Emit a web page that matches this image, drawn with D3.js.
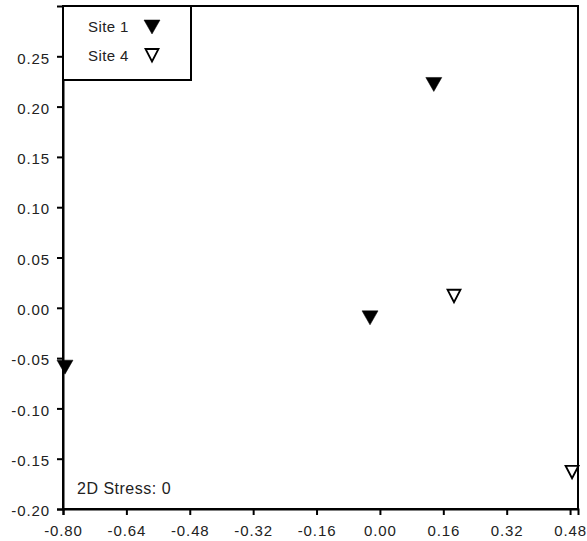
<!DOCTYPE html>
<html>
<head>
<meta charset="utf-8">
<script src="https://cdn.jsdelivr.net/npm/d3@7"></script>
<style>
  body { margin: 0; background: #fff; }
  text { font-family: "Liberation Sans", Arial, sans-serif; }
</style>
</head>
<body>
<div id="chart"></div>
<script>
// data
var site1X = [0.136, -0.025, -0.795];
var site1Y = [0.222, -0.010, -0.059];
var site4X = [0.187, 0.485];
var site4Y = [0.012, -0.163];
var xTicks = [-0.80, -0.64, -0.48, -0.32, -0.16, 0.00, 0.16, 0.32, 0.48];
var yTicks = [-0.20, -0.15, -0.10, -0.05, 0.00, 0.05, 0.10, 0.15, 0.20, 0.25];
var legendNames = ["Site 1", "Site 4"];
var stressLabel = "2D Stress: 0";

var width = 587,
  height = 541,
  padLeft = 63,
  padRight = 578,
  padTop = 6,
  padBottom = 509,
  fontSize = "15px";

var x = d3.scaleLinear().domain([-0.8, 0.5]).range([padLeft, padRight]);
var y = d3.scaleLinear().domain([-0.2, 0.3]).range([padBottom, padTop]);

var fmt = d3.formatLocale({decimal: ".", thousands: ",", grouping: [3], currency: ["", ""], minus: "-"}).format(".2f");

var svg = d3.select("#chart").append("svg")
  .attr("width", width)
  .attr("height", height);

// frame
svg.append("rect")
  .attr("x", padLeft).attr("y", padTop)
  .attr("width", padRight - padLeft).attr("height", padBottom - padTop)
  .attr("fill", "none").attr("stroke", "#000").attr("stroke-width", 2);

var xAxis = svg.append("g")
  .attr("transform", "translate(0," + padBottom + ")")
  .call(d3.axisBottom(x).tickValues(xTicks).tickSize(6).tickPadding(10).tickFormat(fmt));

var yAxis = svg.append("g")
  .attr("transform", "translate(" + padLeft + ",0)")
  .call(d3.axisLeft(y).tickValues(yTicks).tickSize(6).tickPadding(7).tickFormat(fmt));

[xAxis, yAxis].forEach(function(g) {
  g.select(".domain").attr("stroke-width", 2);
  g.selectAll(".tick line").attr("stroke-width", 2);
  g.selectAll("text")
    .style("font-family", "'Liberation Sans', Arial, sans-serif")
    .style("font-size", fontSize)
    .style("letter-spacing", "0.9px")
    .attr("fill", "#222");
});
yAxis.selectAll("text").attr("dy", "0.45em");

// down triangle symbol
var triFull = "M-8,-7L8,-7L0,7Z";
var triOpen = "M-6.5,-6L6.5,-6L0,6.5Z";

svg.selectAll(".s1")
  .data(site1X)
  .enter()
  .append("path")
  .attr("class", "s1")
  .attr("d", triFull)
  .attr("transform", function(d, i) { return "translate(" + x(d) + "," + y(site1Y[i]) + ")"; })
  .attr("fill", "#000")
  .attr("stroke", "#000")
  .attr("stroke-width", 0.5);

svg.selectAll(".s4")
  .data(site4X)
  .enter()
  .append("path")
  .attr("class", "s4")
  .attr("d", triOpen)
  .attr("transform", function(d, i) { return "translate(" + x(d) + "," + y(site4Y[i]) + ")"; })
  .attr("fill", "#fff")
  .attr("stroke", "#000")
  .attr("stroke-width", 1.8);

// legend
svg.append("rect")
  .attr("x", padLeft).attr("y", padTop)
  .attr("width", 128).attr("height", 74)
  .attr("fill", "#fff").attr("stroke", "#000").attr("stroke-width", 2);

svg.selectAll(".legText")
  .data(legendNames)
  .enter()
  .append("text")
  .attr("x", 88)
  .attr("y", function(d, i) { return 32 + i * 28.5; })
  .style("font-size", fontSize)
  .style("letter-spacing", "0.4px")
  .attr("fill", "#222")
  .text(function(d) { return d; });

svg.append("path")
  .attr("d", triFull)
  .attr("transform", "translate(152,27)")
  .attr("fill", "#000").attr("stroke", "#000").attr("stroke-width", 0.5);
svg.append("path")
  .attr("d", triOpen)
  .attr("transform", "translate(152,55)")
  .attr("fill", "#fff").attr("stroke", "#000").attr("stroke-width", 1.8);

svg.append("text")
  .attr("x", 77)
  .attr("y", 494)
  .style("font-size", "16px")
  .style("letter-spacing", "0.5px")
  .attr("fill", "#222")
  .text(stressLabel);
</script>
</body>
</html>
